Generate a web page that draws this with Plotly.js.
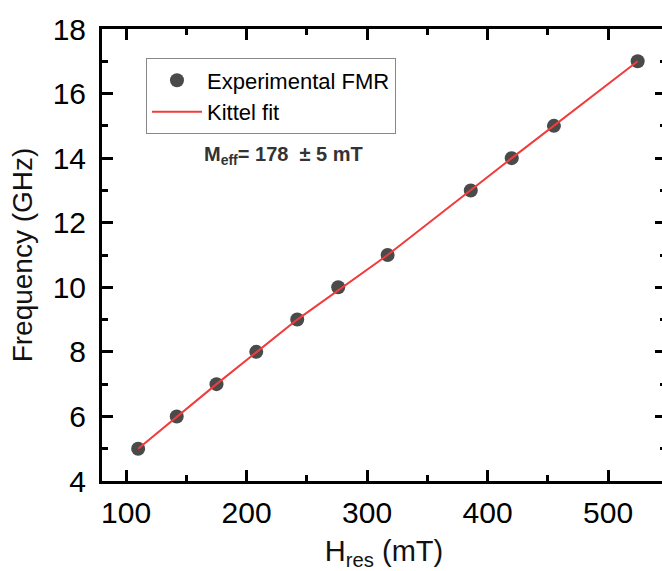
<!DOCTYPE html>
<html>
<head>
<meta charset="utf-8">
<script src="https://cdn.plot.ly/plotly-3.0.1.min.js"></script>
<style>
html,body{margin:0;padding:0;overflow:hidden;background:#fff;}
#chart{width:666px;height:571px;}
</style>
</head>
<body>
<div id="chart"></div>
<script>
var hRes = [110, 142, 175, 208, 242, 276, 317, 386, 420, 455, 524.5];
var freq = [5, 6, 7, 8, 9, 10, 11, 13, 14, 15, 17];
// Kittel fit line
var fitH = [110, 175, 242, 317, 420, 524.5];
var fitF = [5.0, 7.0, 9.0, 11.0, 14.0, 17.0];

var FONT = 'Liberation Sans, Arial, sans-serif';

var traces = [
  {
    x: hRes, y: freq, type: 'scatter', mode: 'markers',
    name: 'Experimental FMR',
    marker: {color: '#4a4a4a', size: 14, symbol: 'circle'}
  },
  {
    x: fitH, y: fitF, type: 'scatter', mode: 'lines',
    name: 'Kittel fit',
    line: {color: '#f03c3c', width: 2}
  }
];

var axisCommon = {
  showline: true, linewidth: 3, linecolor: '#000', mirror: 'allticks',
  ticks: 'inside', ticklen: 11, tickwidth: 3, tickcolor: '#000',
  showgrid: false, zeroline: false,
  tickfont: {family: FONT, size: 30, color: '#000'}
};

var layout = {
  width: 666, height: 571,
  margin: {l: 102, r: 0, t: 29, b: 90},
  paper_bgcolor: '#fff', plot_bgcolor: '#fff',
  showlegend: true,
  xaxis: Object.assign({}, axisCommon, {
    range: [80, 548], tick0: 0, dtick: 100, ticklabelstandoff: 3,
    minor: {ticks: 'inside', ticklen: 6, tickwidth: 3, tickcolor: '#000', dtick: 50, tick0: 0},
    title: {text: 'H<sub>res</sub> (mT)\u00a0\u00a0\u00a0', font: {family: FONT, size: 29, color: '#111'}, standoff: 13}
  }),
  yaxis: Object.assign({}, axisCommon, {
    range: [4, 18], tick0: 0, dtick: 2, ticklabelstandoff: 7,
    minor: {ticks: 'inside', ticklen: 6, tickwidth: 3, tickcolor: '#000', dtick: 1, tick0: 0},
    title: {text: 'Frequency (GHz)', font: {family: FONT, size: 28, color: '#111'}, standoff: 12}
  }),
  legend: {
    x: 0.078, y: 0.935, xanchor: 'left', yanchor: 'top',
    bordercolor: '#888', borderwidth: 1, bgcolor: '#fff',
    font: {family: FONT, size: 22, color: '#000'},
    itemwidth: 50,
    tracegroupgap: 0
  },
  annotations: [{
    xref: 'paper', yref: 'paper', x: 0.177, y: 0.721,
    xanchor: 'left', yanchor: 'middle', showarrow: false,
    text: '<b>M<sub>eff</sub>= 178\u00a0\u00a0± 5 mT</b>',
    font: {family: FONT, size: 20, color: '#333'}
  }]
};

Plotly.newPlot('chart', traces, layout, {displayModeBar: false, staticPlot: true});
</script>
</body>
</html>
